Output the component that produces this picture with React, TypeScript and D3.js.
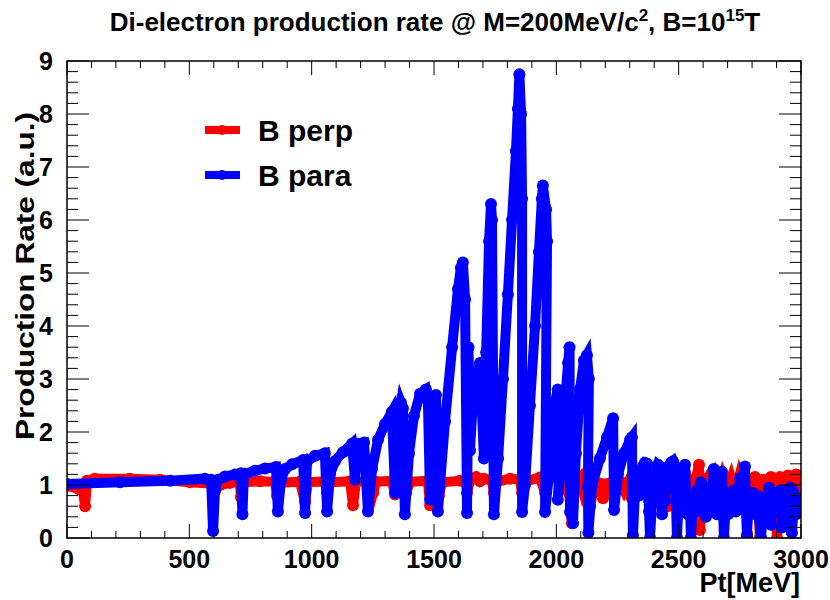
import React from "react";
import * as d3 from "d3";

const xTickLabels = [0, 500, 1000, 1500, 2000, 2500, 3000];
const yTickLabels = [0, 1, 2, 3, 4, 5, 6, 7, 8, 9];

const perpPt = [0,25,49,65,74,82,114,257,380,503,584,605,625,666,707,711,719,789,850,858,866,952,973,985,1054,1063,1075,1157,1169,1181,1238,1251,1263,1328,1341,1353,1381,1386,1402,1475,1484,1496,1512,1520,1533,1606,1631,1635,1647,1672,1688,1704,1737,1745,1757,1811,1851,1860,1872,1933,1954,1966,1999,2039,2052,2064,2076,2097,2109,2125,2138,2158,2178,2191,2207,2228,2244,2260,2277,2293,2309,2326,2342,2358,2375,2391,2407,2424,2440,2456,2473,2489,2505,2522,2538,2554,2571,2583,2587,2599,2616,2632,2648,2665,2681,2697,2714,2730,2747,2763,2779,2796,2812,2824,2832,2845,2861,2877,2894,2902,2914,2930,2947,2963,2980,2996];
const perpRate = [0.98,0.97,0.92,0.9,0.6,1.08,1.12,1.12,1.1,1.05,1.03,0.9,1.0,1.04,1.05,0.77,1.05,1.07,1.06,0.8,1.04,1.06,0.68,1.05,1.07,0.85,1.05,1.07,0.62,1.06,1.07,0.85,1.06,1.08,0.82,1.06,1.07,0.85,1.06,1.08,0.62,1.04,1.06,0.8,1.05,1.08,1.05,0.85,1.08,1.15,1.07,1.12,1.08,0.85,1.06,1.12,1.1,0.85,1.07,1.14,0.85,1.1,1.15,1.12,0.85,0.28,1.0,1.12,0.9,1.1,0.6,1.04,1.03,0.75,1.02,1.05,0.95,1.06,0.9,1.05,0.75,1.0,1.08,0.9,1.1,0.85,1.08,0.8,1.1,0.6,1.05,0.9,1.1,0.85,1.1,0.85,1.12,1.38,0.15,1.0,1.12,0.85,1.1,0.8,1.12,0.9,1.12,0.85,1.15,0.9,1.1,0.85,1.15,0.7,0.0,1.1,0.85,1.15,0.8,0.0,1.15,0.9,1.18,0.85,1.2,0.85];

const paraPt = [0,217,421,564,589,597,605,617,646,687,711,717,723,768,809,854,862,875,891,920,965,973,981,1014,1054,1063,1075,1095,1128,1165,1177,1189,1214,1230,1247,1271,1300,1328,1341,1353,1365,1373,1381,1398,1418,1443,1467,1475,1484,1496,1508,1516,1545,1574,1598,1610,1618,1627,1635,1641,1647,1663,1688,1704,1713,1725,1733,1737,1745,1762,1782,1802,1819,1835,1843,1849,1856,1860,1860,1872,1892,1913,1929,1941,1945,1958,1962,1954,1970,1982,1994,2006,2015,2006,2023,2035,2048,2054,2056,2068,2080,2097,2113,2125,2133,2129,2131,2146,2178,2207,2232,2236,2252,2277,2301,2309,2313,
  2322,2330,2338,2346,2354,2362,2371,2375,2379,2383,2391,2399,2407,2416,2424,2428,2432,2440,2444,2452,2460,2469,2477,2485,2489,2493,2501,2510,2518,2526,2530,2538,2546,2550,2559,2567,2575,2583,2591,2595,2604,2612,2620,2628,2636,2644,2649,2657,2665,2673,2677,2681,2685,2693,2702,2710,2718,2726,2734,2743,2751,2759,2767,2771,2775,2779,2787,2796,2804,2812,2820,2828,2837,2845,2853,2861,2869,2873,2877,2886,2894,2902,2910,2918,2922,2931,2939,2947,2955,2959,2963,2971,2980,2988,2996];
const paraRate = [1.02,1.05,1.08,1.12,1.1,0.13,0.9,1.1,1.16,1.2,1.22,0.45,1.2,1.27,1.31,1.34,0.5,1.1,1.3,1.39,1.47,0.47,1.45,1.55,1.6,0.5,1.2,1.45,1.62,1.78,1.1,1.78,1.8,0.5,1.3,1.85,2.15,2.38,0.85,2.2,2.55,2.45,0.45,1.6,2.3,2.72,2.8,2.6,0.72,2.0,2.7,0.5,2.2,3.6,4.7,5.1,5.2,4.5,0.47,3.6,1.65,2.9,3.3,1.5,3.5,5.6,6.3,6.0,0.45,1.5,3.0,4.6,6.0,7.3,8.1,8.75,8.0,6.4,0.49,1.0,2.5,4.0,5.4,6.4,6.65,6.2,5.6,0.49,1.2,2.0,2.55,2.8,1.53,0.72,1.5,2.5,3.3,3.6,0.49,0.28,1.6,2.8,3.35,3.45,3.0,0.96,0.1,1.0,1.5,1.9,2.26,0.53,1.2,1.6,1.85,1.9,0.05,
  0.9,1.1,0.8,1.25,1.35,1.42,1.4,1.0,0.5,0.0,0.7,1.0,1.2,1.38,1.35,0.9,0.45,1.0,0.7,1.15,1.35,1.42,1.45,1.35,0.7,0.0,0.85,0.55,0.95,1.38,0.8,0.45,0.7,0.0,0.75,0.5,0.9,0.65,1.05,0.5,0.85,0.4,0.95,0.6,0.8,1.3,0.6,0.45,0.8,1.0,1.25,0.6,0.0,0.7,0.45,0.85,0.55,0.9,0.5,0.8,1.13,0.55,0.9,1.35,0.6,0.05,0.7,0.45,0.85,0.55,0.8,0.4,0.0,0.65,0.45,0.8,0.95,0.5,0.25,0.75,0.5,0.85,0.55,0.9,0.2,0.7,0.45,0.8,0.95,0.5,0.1,0.65,0.45,0.7,0.62];

const W = 830, H = 600;
const left = 67, right = 801, top = 61, bottom = 538;
const FONT = "'Liberation Sans', Arial, Helvetica, sans-serif";

export default function App() {
  const x = d3.scaleLinear().domain([0, 3000]).range([left, right]);
  const y = d3.scaleLinear().domain([0, 9]).range([bottom, top]);
  const line = d3.line<[number, number]>().x(d => x(d[0])).y(d => y(d[1]));
  const perp: [number, number][] = perpPt.map((p, i) => [p, perpRate[i]]);
  const para: [number, number][] = paraPt.map((p, i) => [p, paraRate[i]]);

  const xMinor = d3.range(0, 3001, 100);
  const yMinor = d3.range(0, 9.001, 0.2);
  const lw = 10, mr = 6;

  return (
    <svg width={W} height={H} style={{ position: "absolute", left: 0, top: 0, background: "#fff" }} fontFamily={FONT}>
      <rect x={0} y={0} width={W} height={H} fill="#fff" />
      <defs>
        <clipPath id="frame">
          <rect x={left} y={top} width={right - left} height={bottom - top} />
        </clipPath>
      </defs>
      <g clipPath="url(#frame)">
        <path d={line(perp) || ""} fill="none" stroke="#ff0000" strokeWidth={lw} strokeLinejoin="miter" strokeMiterlimit={4} />
        {perp.map((d, i) => <circle key={"r" + i} cx={x(d[0])} cy={y(d[1])} r={mr} fill="#ff0000" />)}
        <path d={line(para) || ""} fill="none" stroke="#0000ff" strokeWidth={lw} strokeLinejoin="miter" strokeMiterlimit={4} />
        {para.map((d, i) => <circle key={"b" + i} cx={x(d[0])} cy={y(d[1])} r={mr} fill="#0000ff" />)}
      </g>
      <rect x={left} y={top} width={right - left} height={bottom - top} fill="none" stroke="#000" strokeWidth={1.5} />
      {xMinor.map(v => {
        const major = v % 500 === 0;
        const len = major ? 14 : 7;
        return (
          <g key={"xt" + v}>
            <line x1={x(v)} x2={x(v)} y1={bottom} y2={bottom - len} stroke="#000" strokeWidth={1} />
            <line x1={x(v)} x2={x(v)} y1={top} y2={top + len} stroke="#000" strokeWidth={1} />
          </g>
        );
      })}
      {yMinor.map((v, i) => {
        const major = i % 5 === 0;
        const len = major ? 22 : 11;
        return (
          <g key={"yt" + i}>
            <line x1={left} x2={left + len} y1={y(v)} y2={y(v)} stroke="#000" strokeWidth={1} />
            <line x1={right} x2={right - len} y1={y(v)} y2={y(v)} stroke="#000" strokeWidth={1} />
          </g>
        );
      })}
      {xTickLabels.map(v => (
        <text key={"xl" + v} x={x(v)} y={568} textAnchor="middle" fontSize={25} fontWeight="bold">{v}</text>
      ))}
      {yTickLabels.map(v => (
        <text key={"yl" + v} x={53} y={y(v) + 9} textAnchor="end" fontSize={25} fontWeight="bold">{v}</text>
      ))}
      <text x={800} y={592} textAnchor="end" fontSize={27} fontWeight="bold">Pt[MeV]</text>
      <text transform={`translate(34,276) rotate(-90)`} textAnchor="middle" fontSize={25} fontWeight="bold" textLength={328} lengthAdjust="spacingAndGlyphs">Production Rate (a.u.)</text>
      <text x={435} y={31} textAnchor="middle" fontSize={26} fontWeight="bold">
        Di-electron production rate @ M=200MeV/c<tspan dy={-10} fontSize={17}>2</tspan><tspan dy={10}>, B=10</tspan><tspan dy={-10} fontSize={17}>15</tspan><tspan dy={10}>T</tspan>
      </text>
      <line x1={205} x2={240} y1={130} y2={130} stroke="#ff0000" strokeWidth={8} />
      <circle cx={222} cy={130} r={5} fill="#ff0000" />
      <text x={258} y={141} fontSize={30} fontWeight="bold">B perp</text>
      <line x1={205} x2={240} y1={175} y2={175} stroke="#0000ff" strokeWidth={8} />
      <circle cx={222} cy={175} r={5} fill="#0000ff" />
      <text x={258} y={186} fontSize={30} fontWeight="bold">B para</text>
    </svg>
  );
}
